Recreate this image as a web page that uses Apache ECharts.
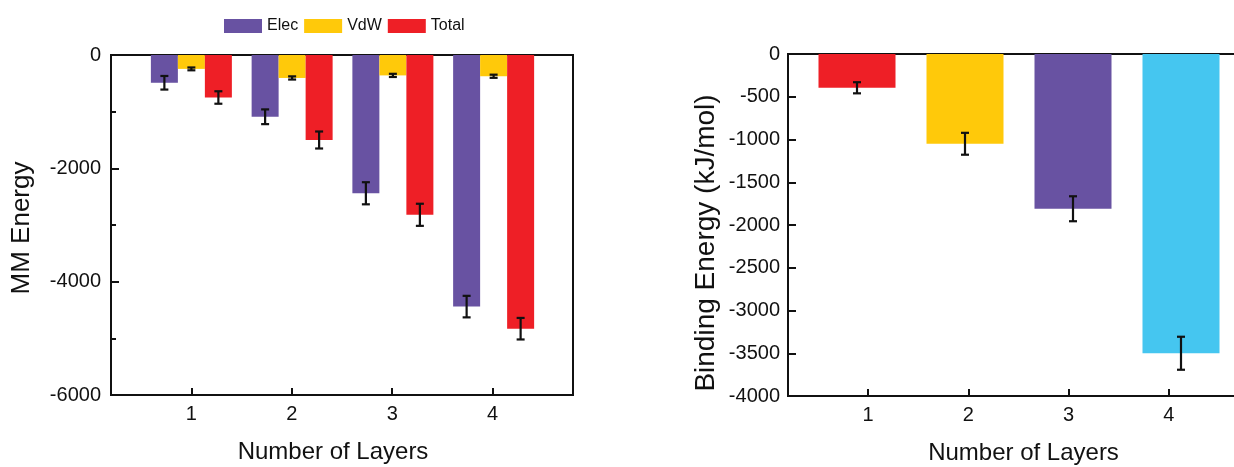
<!DOCTYPE html>
<html><head><meta charset="utf-8">
<script src="https://cdn.jsdelivr.net/npm/echarts@6/dist/echarts.min.js"></script>
<style>html,body{margin:0;padding:0;background:#fff}#c{width:1234px;height:467px}</style>
</head><body><div id="c"></div>
<script>
// ---- data ----
const layers = ['1', '2', '3', '4'];
const seriesNames = ['Elec', 'VdW', 'Total'];
const elec = [-490, -1090, -2440, -4440];
const elecErr = [120, 130, 195, 190];
const vdw = [-245, -405, -360, -375];
const vdwErr = [25, 28, 28, 28];
const total = [-750, -1500, -2820, -4830];
const totalErr = [110, 150, 195, 190];
const binding = [-395, -1050, -1810, -3500];
const bindingErr = [65, 128, 146, 193];

// ---- style ----
const FONT = 'Liberation Sans, Arial, sans-serif';
const INK = '#111';
const colElec = '#6852A2', colVdw = '#FFC90A', colTotal = '#EE1F26', colCyan = '#45C6F0';
const bindingColors = [colTotal, colVdw, colElec, colCyan];
const BAR_W_LEFT = 27;
const BAR_W_RIGHT = 77;

const tickVals = layers.map(Number);
const plain = v => String(v);

function frameGrid(o) {
  return Object.assign({show: true, borderColor: INK, borderWidth: 2, backgroundColor: 'transparent',
    containLabel: false, outerBoundsMode: 'none'}, o);
}
function plainGrid(o) {
  return Object.assign({show: false, containLabel: false, outerBoundsMode: 'none'}, o);
}
function frameX(gridIndex, nameShift) {
  return {
    type: 'value', gridIndex: gridIndex, min: 0.2, max: 4.8, position: 'bottom',
    axisLine: {show: true, onZero: false, lineStyle: {color: INK, width: 2}},
    axisTick: {show: true, inside: true, length: 7, customValues: tickVals, lineStyle: {color: INK, width: 2}},
    axisLabel: {show: true, customValues: tickVals, formatter: plain, fontSize: 20, color: INK, fontFamily: FONT, margin: 9},
    splitLine: {show: false},
    name: 'Number of Layers', nameLocation: 'middle', nameGap: 45,
    nameTextStyle: {fontSize: 24, color: INK, fontFamily: FONT, padding: nameShift}
  };
}
function hiddenCatX(gridIndex) {
  return {type: 'category', gridIndex: gridIndex, data: layers, show: false,
    axisLine: {show: false}, axisTick: {show: false}, axisLabel: {show: false}, splitLine: {show: false}};
}
function hiddenY(gridIndex, min) {
  return {type: 'value', gridIndex: gridIndex, min: min, max: 0, show: false, splitLine: {show: false}};
}
function errSeries(xi, yi, vals, errs, offset) {
  return {
    type: 'custom', xAxisIndex: xi, yAxisIndex: yi, z: 10, silent: true,
    data: vals.map((v, i) => [i, v, errs[i]]),
    renderItem: function (params, api) {
      const i = api.value(0), v = api.value(1), e = api.value(2);
      const top = api.coord([i, v + e]);
      const bot = api.coord([i, v - e]);
      const x = top[0] + offset;
      const hw = 4;
      const st = {stroke: INK, lineWidth: 2.2};
      return {type: 'group', children: [
        {type: 'line', shape: {x1: x, y1: top[1], x2: x, y2: bot[1]}, style: st},
        {type: 'line', shape: {x1: x - hw, y1: top[1], x2: x + hw, y2: top[1]}, style: st},
        {type: 'line', shape: {x1: x - hw, y1: bot[1], x2: x + hw, y2: bot[1]}, style: st}
      ]};
    }
  };
}

const option = {
  animation: false,
  backgroundColor: '#fff',
  textStyle: {fontFamily: FONT},
  legend: {
    data: seriesNames, left: 219, top: 13, itemWidth: 38, itemHeight: 14, itemGap: 6,
    icon: 'rect', textStyle: {fontSize: 16, color: INK, fontFamily: FONT}
  },
  grid: [
    frameGrid({left: 111, top: 55, width: 462, height: 340}),
    plainGrid({left: 141, top: 55, width: 403, height: 340}),
    frameGrid({left: 788, top: 54, width: 461, height: 342}),
    plainGrid({left: 803, top: 54, width: 432, height: 342})
  ],
  xAxis: [
    frameX(0, [0, 18, 0, 0]),
    hiddenCatX(1),
    frameX(2, [0, 0, 0, 10]),
    hiddenCatX(3)
  ],
  yAxis: [
    {
      type: 'value', gridIndex: 0, min: -6000, max: 0, interval: 2000,
      axisLine: {show: true, lineStyle: {color: INK, width: 2}},
      axisTick: {show: true, inside: true, length: 8, lineStyle: {color: INK, width: 2}},
      minorTick: {show: true, splitNumber: 2, length: 5, lineStyle: {color: INK, width: 2}},
      axisLabel: {formatter: plain, fontSize: 20, color: INK, fontFamily: FONT, margin: 10},
      splitLine: {show: false},
      name: 'MM Energy', nameLocation: 'middle', nameGap: 76,
      nameTextStyle: {fontSize: 26, color: INK, fontFamily: FONT, padding: [0, 6, 0, 0]}
    },
    hiddenY(1, -6000),
    {
      type: 'value', gridIndex: 2, min: -4000, max: 0, interval: 500,
      axisLine: {show: true, lineStyle: {color: INK, width: 2}},
      axisTick: {show: true, inside: true, length: 8, lineStyle: {color: INK, width: 2}},
      axisLabel: {formatter: plain, fontSize: 20, color: INK, fontFamily: FONT, margin: 8},
      splitLine: {show: false},
      name: 'Binding Energy (kJ/mol)', nameLocation: 'middle', nameGap: 68,
      nameTextStyle: {fontSize: 28, color: INK, fontFamily: FONT, padding: [0, 36, 0, 0]}
    },
    hiddenY(3, -4000)
  ],
  series: [
    {name: 'Elec', type: 'bar', xAxisIndex: 1, yAxisIndex: 1, data: elec, barWidth: BAR_W_LEFT, barGap: '0%', itemStyle: {color: colElec}},
    {name: 'VdW', type: 'bar', xAxisIndex: 1, yAxisIndex: 1, data: vdw, barWidth: BAR_W_LEFT, barGap: '0%', itemStyle: {color: colVdw}},
    {name: 'Total', type: 'bar', xAxisIndex: 1, yAxisIndex: 1, data: total, barWidth: BAR_W_LEFT, barGap: '0%', itemStyle: {color: colTotal}},
    errSeries(1, 1, elec, elecErr, -BAR_W_LEFT),
    errSeries(1, 1, vdw, vdwErr, 0),
    errSeries(1, 1, total, totalErr, BAR_W_LEFT),
    {name: 'Binding', type: 'bar', xAxisIndex: 3, yAxisIndex: 3, barWidth: BAR_W_RIGHT,
      data: binding.map((v, i) => ({value: v, itemStyle: {color: bindingColors[i]}}))},
    errSeries(3, 3, binding, bindingErr, 0)
  ]
};

const chart = echarts.init(document.getElementById('c'), null, {renderer: 'canvas'});
chart.setOption(option);
</script>
</body></html>
